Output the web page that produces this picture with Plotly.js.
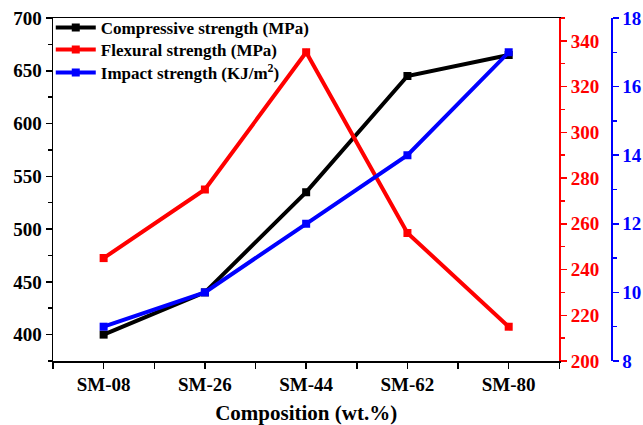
<!DOCTYPE html>
<html>
<head>
<meta charset="utf-8">
<script src="https://cdn.plot.ly/plotly-3.0.1.min.js"></script>
<style>html,body{margin:0;padding:0;background:#fff;}#chart{width:643px;height:425px;}</style>
</head>
<body>
<div id="chart"></div>
<script>
const categories = ["SM-08", "SM-26", "SM-44", "SM-62", "SM-80"];
const compressive = [400, 440, 535, 645, 665];
const flexural = [245, 275, 335, 256, 215];
const impact = [9.0, 10, 12, 14, 17];
const xIdx = categories.map((c, i) => i);

const FONT = "Liberation Serif, Times New Roman, serif";

const traces = [
  {x: xIdx, y: compressive, name: "Compressive strength (MPa)", type: "scatter", mode: "lines+markers",
   line: {color: "#000000", width: 4}, marker: {symbol: "square", size: 8, color: "#000000"}, yaxis: "y", legend: "legend"},
  {x: xIdx, y: flexural, name: "Flexural strength (MPa)", type: "scatter", mode: "lines+markers",
   line: {color: "#ff0000", width: 4}, marker: {symbol: "square", size: 8, color: "#ff0000"}, yaxis: "y2", legend: "legend2"},
  {x: xIdx, y: impact, name: "Impact strength (KJ/m<sup>2</sup>)", type: "scatter", mode: "lines+markers",
   line: {color: "#0000ff", width: 4}, marker: {symbol: "square", size: 8, color: "#0000ff"}, yaxis: "y3", legend: "legend3"}
];

function legendAt(yFrac) {
  return {x: -0.004, y: yFrac, xanchor: "left", yanchor: "middle", bgcolor: "rgba(0,0,0,0)",
          font: {family: FONT, size: 17, color: "#000", weight: "bold"}, itemwidth: 40};
}

const layout = {
  width: 643, height: 425,
  margin: {l: 53, r: 32, t: 18, b: 64, autoexpand: false},
  paper_bgcolor: "#ffffff", plot_bgcolor: "#ffffff",
  font: {family: FONT, size: 19, color: "#000000", weight: "bold"},
  showlegend: true,
  legend: legendAt(0.971),
  legend2: legendAt(0.907),
  legend3: legendAt(0.840),
  xaxis: {
    domain: [0, 0.9074], range: [-0.5, 4.5], automargin: false,
    tickmode: "array", tickvals: xIdx, ticktext: categories,
    ticks: "outside", ticklen: 6, tickwidth: 1.5, tickcolor: "#000",
    minor: {tickmode: "array", tickvals: [-0.5, 0.5, 1.5, 2.5, 3.5, 4.5], ticks: "outside", ticklen: 6, tickwidth: 1.5, tickcolor: "#000"},
    showline: true, linecolor: "#000", linewidth: 1.5, mirror: true,
    showgrid: false, zeroline: false,
    tickfont: {family: FONT, size: 19, color: "#000", weight: "bold"},
    title: {text: "Composition (wt.%)", font: {family: FONT, size: 21, color: "#000", weight: "bold"}, standoff: 12}
  },
  yaxis: {
    range: [375, 700], tickmode: "linear", tick0: 400, dtick: 50, automargin: false,
    ticks: "outside", ticklen: 6, tickwidth: 1.5, tickcolor: "#000",
    minor: {tickmode: "linear", tick0: 375, dtick: 50, ticks: "outside", ticklen: 4, tickwidth: 1.5, tickcolor: "#000"},
    showline: true, linecolor: "#000", linewidth: 1.5,
    showgrid: false, zeroline: false,
    tickfont: {family: FONT, size: 19, color: "#000", weight: "bold"}
  },
  yaxis2: {
    overlaying: "y", side: "right", anchor: "x", automargin: false,
    range: [200, 350], tickmode: "linear", tick0: 200, dtick: 20,
    ticks: "outside", ticklen: 6, tickwidth: 1.5, tickcolor: "#ff0000",
    minor: {tickmode: "linear", tick0: 210, dtick: 20, ticks: "outside", ticklen: 4, tickwidth: 1.5, tickcolor: "#ff0000"},
    showline: true, linecolor: "#ff0000", linewidth: 1.5,
    showgrid: false, zeroline: false,
    tickfont: {family: FONT, size: 19, color: "#ff0000", weight: "bold"}
  },
  yaxis3: {
    overlaying: "y", side: "right", anchor: "free", position: 1, automargin: false,
    range: [8, 18], tickmode: "linear", tick0: 8, dtick: 2,
    ticks: "outside", ticklen: 6, tickwidth: 1.5, tickcolor: "#0000ff",
    minor: {tickmode: "linear", tick0: 9, dtick: 2, ticks: "outside", ticklen: 4, tickwidth: 1.5, tickcolor: "#0000ff"},
    showline: true, linecolor: "#0000ff", linewidth: 1.5,
    showgrid: false, zeroline: false,
    tickfont: {family: FONT, size: 19, color: "#0000ff", weight: "bold"}
  }
};

Plotly.newPlot("chart", traces, layout, {displayModeBar: false, staticPlot: true});
</script>
</body>
</html>
